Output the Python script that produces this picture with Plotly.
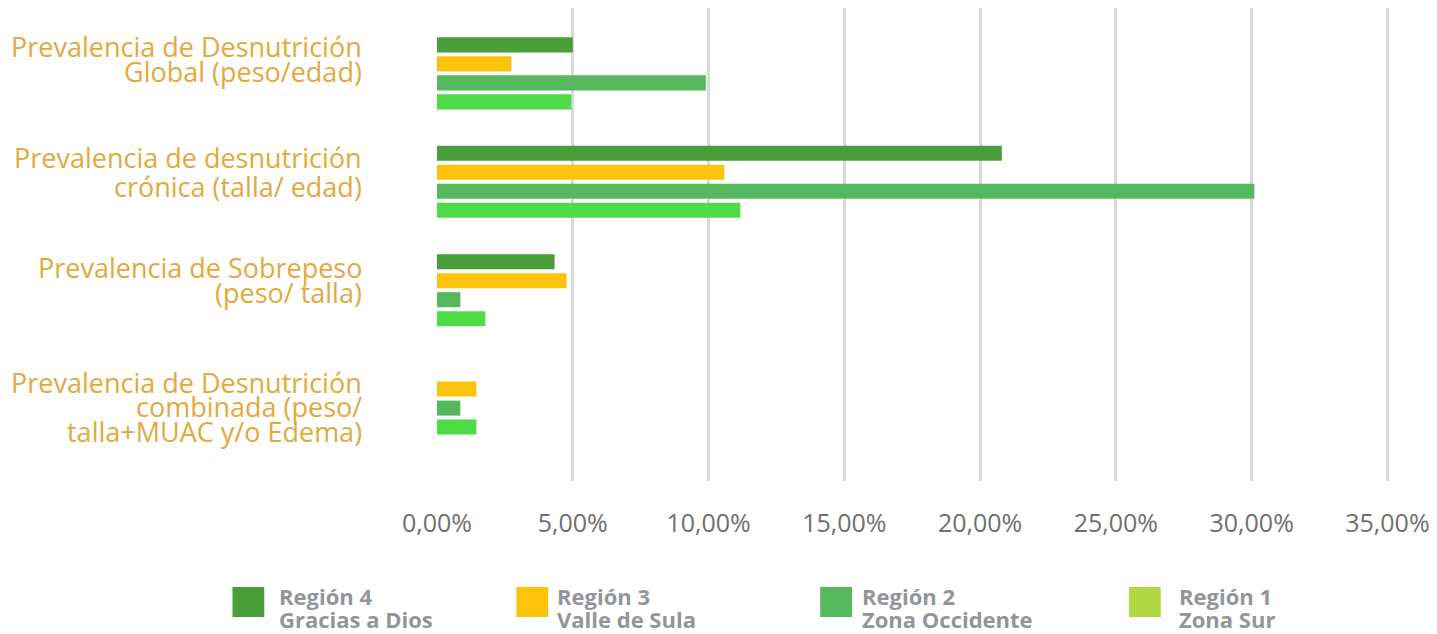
import plotly.graph_objects as go

# ---- data ----
categories = [
    "Prevalencia de Desnutrición<br>Global (peso/edad)",
    "Prevalencia de desnutrición<br>crónica (talla/ edad)",
    "Prevalencia de Sobrepeso<br>(peso/ talla)",
    "Prevalencia de Desnutrición<br>combinada (peso/<br>talla+MUAC y/o Edema)",
]
series_names = ["Región 4", "Región 3", "Región 2", "Región 1"]
series_sub = ["Gracias a Dios", "Valle de Sula", "Zona Occidente", "Zona Sur"]
region4 = [0.0500, 0.2080, 0.0433, None]
region3 = [0.0274, 0.1058, 0.0477, 0.0145]
region2 = [0.0990, 0.3010, 0.0086, 0.0086]
region1 = [0.0495, 0.1117, 0.0178, 0.0145]
values = [region4, region3, region2, region1]
tick_values = [0, 0.05, 0.10, 0.15, 0.20, 0.25, 0.30, 0.35]

# ---- style ----
bar_colors = ["#4a9e3a", "#fbc30c", "#55b85d", "#4fdb48"]
legend_colors = ["#4a9e3a", "#fbc30c", "#55b85d", "#b1d843"]
label_color = "#e2a93c"
tick_color = "#6f6f6f"
legend_text_color = "#939598"

W, H = 1437, 634
L, R, T, B = 437, 29, 8, 153
PW, PH = W - L - R, H - T - B


def px_x(x):
    return (x - L) / PW


def px_y(y):
    return (H - B - y) / PH


fig = go.Figure()
for name, vals, col in zip(series_names, values, bar_colors):
    fig.add_trace(go.Bar(
        y=categories, x=vals, name=name, orientation="h",
        marker=dict(color=col, line=dict(width=0)),
        showlegend=False,
    ))

annotations = []
shapes = []

# category labels (one annotation per line)
label_baselines = [[57, 82], [168, 197], [278, 303], [393, 417, 442]]
label_size = 27
for cat, bls in zip(categories, label_baselines):
    for line, bl in zip(cat.split("<br>"), bls):
        annotations.append(dict(
            text=line, xref="paper", yref="paper",
            x=px_x(363), y=px_y(bl - 0.388 * label_size),
            xanchor="right", yanchor="middle", showarrow=False,
            font=dict(family="Open Sans", size=label_size, color=label_color),
        ))

# custom legend
sq_x = [231, 517, 823, 1134]
txt_x = [276, 556, 863, 1182]
leg_size = 22
for i in range(4):
    shapes.append(dict(
        type="rect", xref="paper", yref="paper",
        x0=px_x(sq_x[i]), x1=px_x(sq_x[i] + 32),
        y0=px_y(617), y1=px_y(587),
        fillcolor=legend_colors[i], line=dict(width=0),
    ))
    for txt, bl in ((series_names[i], 605), (series_sub[i], 628)):
        annotations.append(dict(
            text="<b>" + txt + "</b>", xref="paper", yref="paper",
            x=px_x(txt_x[i]), y=px_y(bl - 0.388 * leg_size),
            xanchor="left", yanchor="middle", showarrow=False,
            font=dict(family="Open Sans", size=leg_size, color=legend_text_color),
        ))

fig.update_layout(
    width=W, height=H,
    margin=dict(l=L, r=R, t=T, b=B, pad=0),
    paper_bgcolor="white", plot_bgcolor="white",
    barmode="group", bargap=0.299, bargroupgap=0.21,
    separators=",.",
    showlegend=False,
    annotations=annotations, shapes=shapes,
    xaxis=dict(
        range=[0, 0.355], tickvals=tick_values, tickformat=".2%",
        showgrid=True, gridcolor="#d9d9d9", gridwidth=2.5,
        zeroline=False, showline=False, ticks="",
        ticklabelstandoff=25, ticklabeloverflow="allow",
        tickfont=dict(family="Open Sans", size=25, color=tick_color),
    ),
    yaxis=dict(
        type="category", range=[3.760, -0.603],
        showticklabels=False, showgrid=False, zeroline=False, showline=False,
        ticks="",
    ),
)

fig.write_html(
    "out.html",
    config={"displayModeBar": False},
    post_script="document.body.style.margin='0';document.body.style.overflow='hidden';",
)
